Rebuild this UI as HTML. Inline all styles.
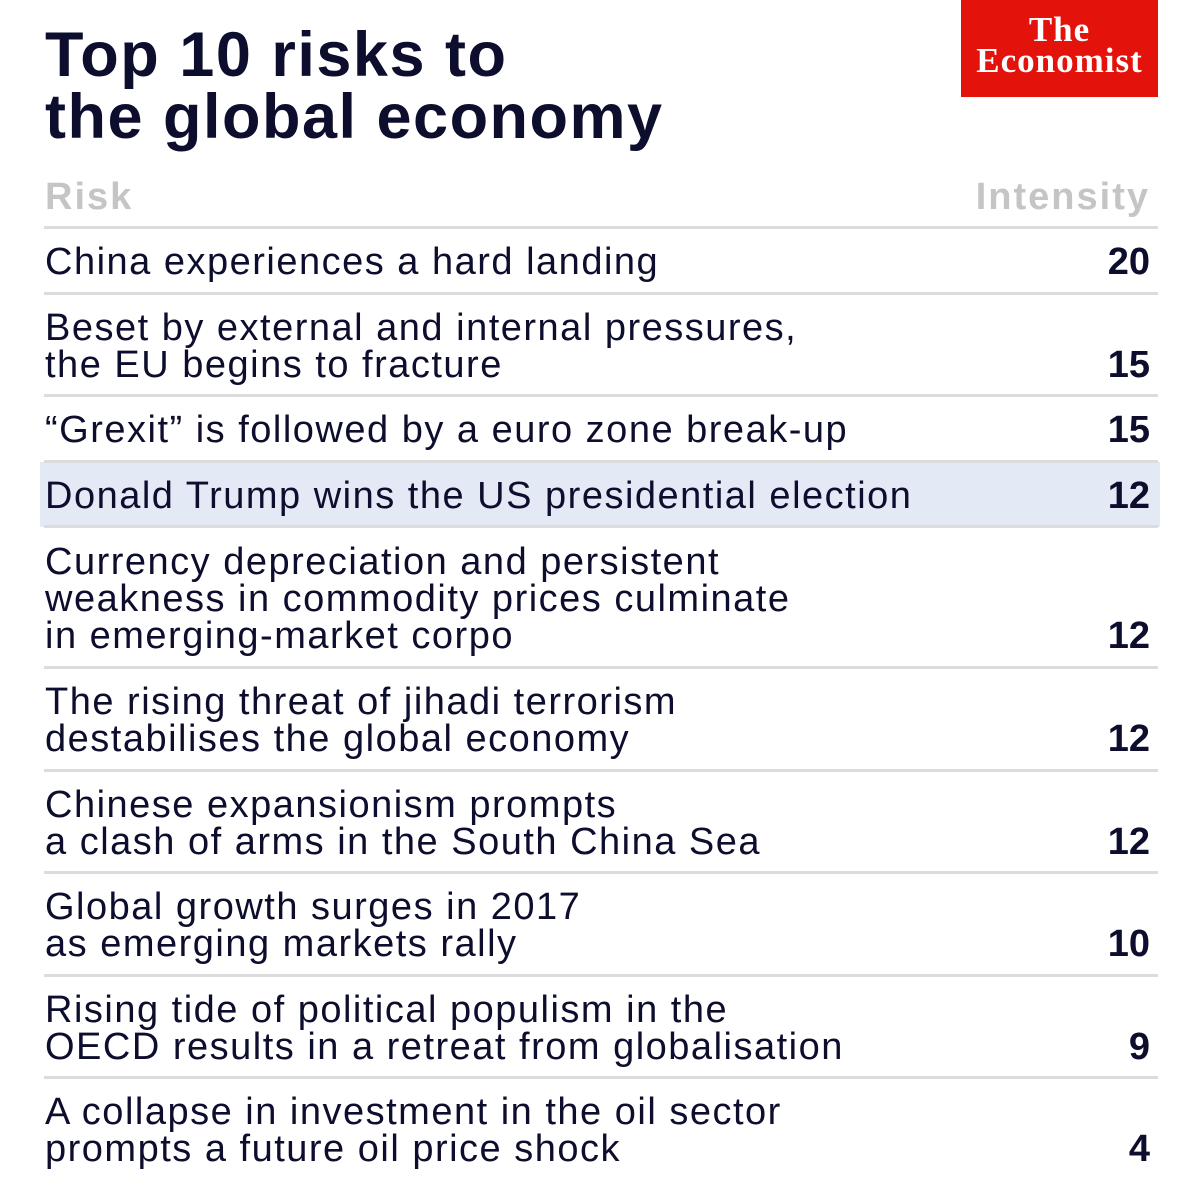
<!DOCTYPE html>
<html><head><meta charset="utf-8"><style>
body{margin:0;width:1200px;height:1200px;background:#fff;position:relative;overflow:hidden;font-family:"Liberation Sans",sans-serif;color:#0d0d2e}
.a{position:absolute}
.title{left:45px;top:24px;font-size:63px;font-weight:bold;line-height:62px;letter-spacing:1.5px;color:#0d0d2e}
.logo{left:961px;top:0;width:197px;height:97px;background:#e3120b;color:#fff;font-family:"Liberation Serif",serif;font-weight:bold;text-align:center;font-size:35px;line-height:31px;padding-top:14px;box-sizing:border-box;letter-spacing:1px}
.hdr{top:176px;font-size:38px;font-weight:bold;color:#c5c5c5;letter-spacing:2px}
.sep{left:44px;width:1114px;height:3px;background:#dcdcdc}
.row{left:45px;font-size:38px;line-height:37px;white-space:nowrap;letter-spacing:1.5px}
.num{right:50px;font-size:38px;font-weight:bold;line-height:37px}
.hl{left:40px;top:462px;width:1120px;height:65px;background:#e3e9f5}
</style></head><body>
<div class="a title">Top 10 risks to<br>the global economy</div>
<div class="a logo">The<br>Economist</div>
<div class="a hdr" style="left:45px">Risk</div>
<div class="a hdr" style="right:50px">Intensity</div>
<div class="a hl"></div>
<script>
const risks=[["China experiences a hard landing"],["Beset by external and internal pressures,","the EU begins to fracture"],["“Grexit” is followed by a euro zone break-up"],["Donald Trump wins the US presidential election"],["Currency depreciation and persistent","weakness in commodity prices culminate","in emerging-market corpo"],["The rising threat of jihadi terrorism","destabilises the global economy"],["Chinese expansionism prompts","a clash of arms in the South China Sea"],["Global growth surges in 2017","as emerging markets rally"],["Rising tide of political populism in the","OECD results in a retreat from globalisation"],["A collapse in investment in the oil sector","prompts a future oil price shock"]];
const intensity=[20,15,15,12,12,12,12,10,9,4];
const root=document.body;
let y=226;
const sepTop=document.createElement('div');sepTop.className='a sep';sepTop.style.top=y+'px';


root.appendChild(sepTop);
risks.forEach((lines,i)=>{
  const h=lines.length===1?65.5:(lines.length===2?102.5:141);
  const t=document.createElement('div');t.className='a row';
  const top=y+(h-lines.length*37)/2+4;
  t.style.top=top+'px';
  t.innerHTML=lines.join('<br>');
  
  
  root.appendChild(t);
  const n=document.createElement('div');n.className='a num';
  n.style.top=(top+(lines.length-1)*37)+'px';
  n.textContent=intensity[i];
  
  
  root.appendChild(n);
  y+=h;
  if(i<risks.length-1){
    const s=document.createElement('div');s.className='a sep';s.style.top=y+'px';
    
    
    root.appendChild(s);
  }
});
</script>
</body></html>
